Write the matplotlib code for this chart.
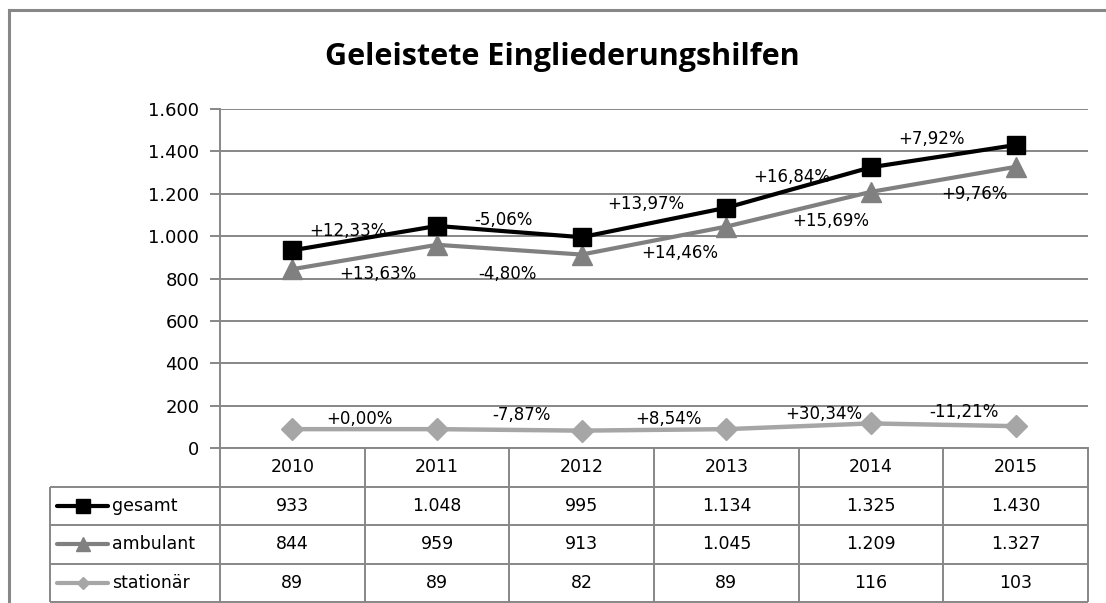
import matplotlib
matplotlib.use("Agg")
import matplotlib.pyplot as plt
from matplotlib.lines import Line2D
from matplotlib.ticker import FuncFormatter

# ---------------- data ----------------
years = ["2010", "2011", "2012", "2013", "2014", "2015"]
gesamt = [933, 1048, 995, 1134, 1325, 1430]
ambulant = [844, 959, 913, 1045, 1209, 1327]
stationaer = [89, 89, 82, 89, 116, 103]
series_names = ["gesamt", "ambulant", "stationär"]
title = "Geleistete Eingliederungshilfen"
y_ticks = [0, 200, 400, 600, 800, 1000, 1200, 1400, 1600]

# label offsets (pixels: dx, dy up) for the growth labels
off_gesamt = [(-17, 7), (-6, 12), (-8, 18), (-7, 10), (-12, 17)]
off_amb = [(13, -17), (-2, -24), (26, -12), (32, -12), (31, -15)]
off_stat = [(-5, 10), (12, 15), (14, 11), (25, 12), (21, 13)]

# ---------------- style ----------------
W, H = 1106, 603
C_GES = "#000000"
C_AMB = "#808080"
C_STA = "#a6a6a6"
C_GRID = "#878787"
FONT = "DejaVu Sans"

def de_num(v):
    return f"{int(v):,}".replace(",", ".")

def pct(a, b):
    p = (b - a) / a * 100
    s = f"{p:+.2f}%".replace(".", ",")
    return s

fig = plt.figure(figsize=(W / 100, H / 100), dpi=100)
fig.patch.set_facecolor("white")

# plot area in pixels
PL, PR, PT, PB = 220, 1088, 109, 448
ax = fig.add_axes([PL / W, 1 - PB / H, (PR - PL) / W, (PB - PT) / H])
n = len(years)
xs = [i + 0.5 for i in range(n)]
ax.set_xlim(0, n)
ax.set_ylim(0, 1600)
ax.set_yticks(y_ticks)
ax.yaxis.set_major_formatter(FuncFormatter(lambda v, p: de_num(v)))
ax.set_xticks([])
ax.grid(axis="y", color=C_GRID, lw=1.4)
ax.set_axisbelow(True)
for s in ["top", "right"]:
    ax.spines[s].set_visible(False)
for s in ["left", "bottom"]:
    ax.spines[s].set_color(C_GRID)
    ax.spines[s].set_linewidth(1.4)
ax.tick_params(axis="y", length=7, width=1.4, color=C_GRID, pad=8,
               labelsize=13, labelcolor="black")
for t in ax.get_yticklabels():
    t.set_fontfamily(FONT)

ax.plot(xs, stationaer, color=C_STA, lw=3.2, marker="D", ms=11,
        mfc=C_STA, mec=C_STA, zorder=3, clip_on=False)
ax.plot(xs, ambulant, color=C_AMB, lw=3, marker="^", ms=15,
        mfc=C_AMB, mec=C_AMB, zorder=4, clip_on=False)
ax.plot(xs, gesamt, color=C_GES, lw=3, marker="s", ms=13,
        mfc=C_GES, mec=C_GES, zorder=5, clip_on=False)

def add_labels(vals, offs):
    for i in range(len(vals) - 1):
        mx = (xs[i] + xs[i + 1]) / 2
        my = (vals[i] + vals[i + 1]) / 2
        dx, dy = offs[i]
        ax.annotate(pct(vals[i], vals[i + 1]), (mx, my), xytext=(dx, dy),
                    textcoords="offset pixels", ha="center", va="center",
                    fontsize=12, family=FONT, color="black", zorder=6,
                    annotation_clip=False)

add_labels(gesamt, off_gesamt)
add_labels(ambulant, off_amb)
add_labels(stationaer, off_stat)

# ---------------- data table ----------------
TL, TB = 50, 602
colw = (PR - PL) / n
Lw = (PL - TL) / colw
tax = fig.add_axes([TL / W, 1 - TB / H, (PR - TL) / W, (TB - PB) / H])
tax.set_xlim(-Lw, n)
tax.set_ylim(4, 0)
tax.axis("off")
lk = dict(color=C_GRID, lw=1.4, clip_on=False, solid_capstyle="butt")
for r in [1, 2, 3, 4]:
    tax.plot([-Lw, n], [r, r], **lk)
for c in range(n + 1):
    tax.plot([c, c], [0, 4], **lk)
tax.plot([-Lw, -Lw], [1, 4], **lk)

for i, yv in enumerate(years):
    tax.text(i + 0.5, 0.5, yv, ha="center", va="center", fontsize=12.5,
             family=FONT)
rows = [gesamt, ambulant, stationaer]
for r, vals in enumerate(rows):
    for i, v in enumerate(vals):
        tax.text(i + 0.5, r + 1.5, de_num(v), ha="center", va="center",
                 fontsize=12.5, family=FONT)

def px2x(px):
    return (px - PL) / colw

styles = [(C_GES, "s", 9.5), (C_AMB, "^", 10), (C_STA, "D", 6.5)]
for r, (name, (col, mk, ms)) in enumerate(zip(series_names, styles)):
    yy = r + 1.5
    tax.plot([px2x(57), px2x(108)], [yy, yy], color=col, lw=3,
             clip_on=False, solid_capstyle="round")
    tax.plot([px2x(82.5)], [yy], marker=mk, ms=ms, color=col, clip_on=False)
    tax.text(px2x(112), yy, name, ha="left", va="center", fontsize=12.5,
             family=FONT)

# ---------------- title & border ----------------
fig.text(562.5 / W, 1 - 65 / H, title, ha="center", va="baseline",
         fontsize=22, fontweight="bold", family="Open Sans")
fig.add_artist(Line2D([9 / W, 1], [1 - 10 / H, 1 - 10 / H],
                      transform=fig.transFigure, color=C_GRID, lw=2.2))
fig.add_artist(Line2D([9 / W, 9 / W], [0, 1 - 10 / H],
                      transform=fig.transFigure, color=C_GRID, lw=2.2))

fig.savefig("out.png", dpi=100, facecolor="white")
